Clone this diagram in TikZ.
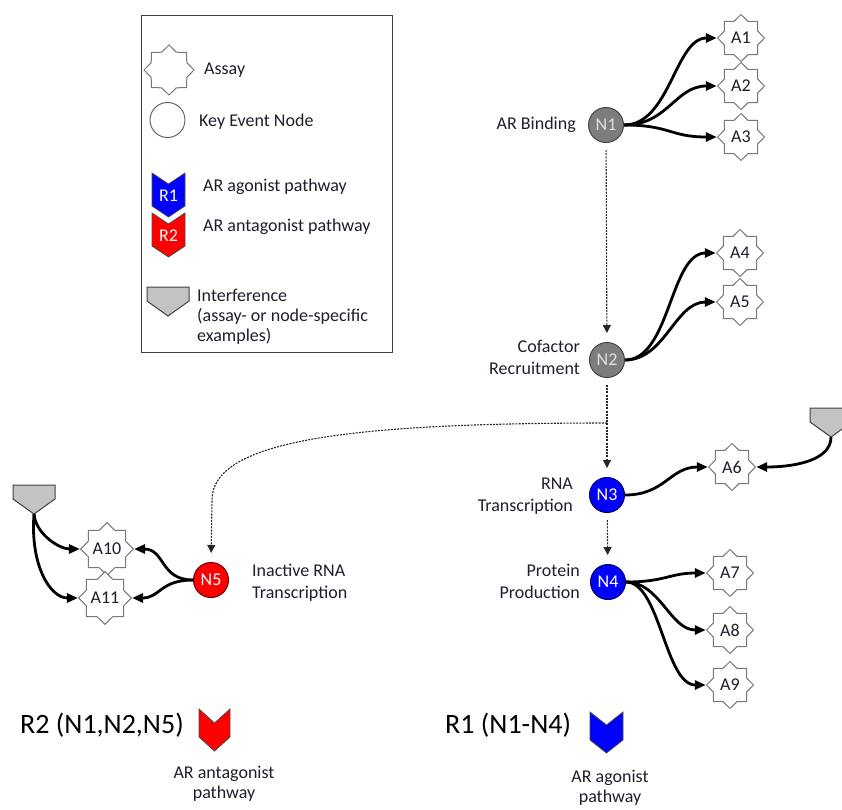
\documentclass[tikz,border=0pt]{standalone}
\usepackage{fontspec}
\setmainfont{Carlito}
\usetikzlibrary{shapes.geometric,arrows.meta}
\definecolor{txt}{RGB}{30,30,45}
\definecolor{kgray}{RGB}{125,125,125}
\definecolor{kgrayd}{RGB}{70,70,70}
\definecolor{intf}{RGB}{195,195,195}
\definecolor{stard}{RGB}{120,120,120}
\newcommand{\mychev}[6]{%
  \filldraw[fill=#6,draw=black!70,line width=0.8pt]
    (#1,#2) -- ({#1+#3/2},{#2+#5}) -- ({#1+#3},#2) -- ({#1+#3},{#2+#4-#5})
    -- ({#1+#3/2},{#2+#4}) -- (#1,{#2+#4-#5}) -- cycle;}
\newcommand{\myinterf}[3]{%
  \filldraw[fill=intf,draw=black!75,line width=1pt]
    (#1,#2) -- ({#1+42},#2) -- ({#1+42},{#2+14}) -- ({#1+21},{#2+29})
    -- (#1,{#2+14}) -- cycle;
  \coordinate (#3) at ({#1+21},{#2+29});}
\tikzset{
  assay/.style={star, star points=8, star point ratio=1.3, minimum size=47pt,
    inner sep=0pt, draw=stard, fill=white, line width=1pt, text=txt,
    font=\fontsize{18}{20}\selectfont},
  ken/.style={circle, minimum size=35pt, inner sep=0pt, line width=1pt,
    font=\fontsize{18}{20}\selectfont},
  lbl/.style={text=txt, font=\fontsize{18}{22}\selectfont, inner sep=0pt},
  leg/.style={text=txt, font=\fontsize{18}{20}\selectfont, inner sep=0pt, anchor=west, align=left},
  conn/.style={line width=2.8pt, -{Triangle[length=11pt,width=9pt]}},
  flow/.style={line width=1.1pt, draw=black!85, dash pattern=on 2pt off 1.2pt,
    -{Triangle[length=8pt,width=8pt]}, shorten <=7pt, shorten >=9pt},
}
\begin{document}
\begin{tikzpicture}[x=1pt,y=-1pt]
\useasboundingbox (0,0) rectangle (842,809);
% ---------- legend ----------
\node[draw=black!75, line width=1pt, minimum width=251pt, minimum height=337pt,
  inner sep=0pt] (legend) at (266.5,183.5) {};
\node[assay, minimum size=50pt] (legA) at (169,70) {};
\node[leg] (legAt) at (204,70) {Assay};
\node[ken, draw=black!60, fill=white] (legN) at (167.5,120) {};
\node[leg] (legNt) at (199,122) {Key Event Node};
\mychev{152}{173}{33}{44}{11}{blue}
\node[text=white, font=\fontsize{18}{20}\selectfont] (legR1) at (168.5,196) {R1};
\node[leg] (legR1t) at (203,187) {AR agonist pathway};
\mychev{152}{213}{33}{44}{11}{red}
\node[text=white, font=\fontsize{18}{20}\selectfont] (legR2) at (168.5,236) {R2};
\node[leg] (legR2t) at (203,227) {AR antagonist pathway};
\myinterf{147}{287}{legI}
\node[leg] (legIt) at (197,317) {Interference\\(assay- or node-specific\\examples)};
% ---------- key event nodes ----------
\node[ken, fill=kgray, draw=kgrayd, text=white!88!black] (N1) at (606,125) {N1};
\node[ken, fill=kgray, draw=kgrayd, text=white!88!black] (N2) at (607,360) {N2};
\node[ken, fill=blue, draw=blue!40!black, text=white] (N3) at (607,495) {N3};
\node[ken, fill=blue, draw=blue!40!black, text=white] (N4) at (608,582) {N4};
\node[ken, fill=red, draw=red!40!black, text=white] (N5) at (211,580) {N5};
\node[lbl, anchor=east] (t1) at (576,125) {AR Binding};
\node[lbl, anchor=east, align=right] (t2) at (580,357) {Cofactor\\Recruitment};
\node[lbl, anchor=east, align=right] (t3) at (573,496) {RNA\\Transcription};
\node[lbl, anchor=east, align=right] (t4) at (580,581) {Protein\\Production};
\node[lbl, anchor=west, align=left] (t5) at (252,583) {Inactive RNA\\Transcription};
% ---------- assays ----------
\node[assay] (A1) at (741,38) {A1};
\node[assay] (A2) at (741,86) {A2};
\node[assay] (A3) at (741,137) {A3};
\node[assay] (A4) at (740,253) {A4};
\node[assay] (A5) at (740,302) {A5};
\node[assay] (A6) at (732,467) {A6};
\node[assay] (A7) at (730,573) {A7};
\node[assay] (A8) at (730,630) {A8};
\node[assay] (A9) at (730,685) {A9};
\node[assay] (A10) at (107,549) {A10};
\node[assay] (A11) at (105,598) {A11};
% ---------- interference ----------
\myinterf{810}{408}{IR}
\myinterf{13}{485}{IL}
% ---------- dashed flow ----------
\draw[flow] (N1) -- (N2);
\draw[flow] (N2) -- (N3);
\draw[flow] (N3) -- (N4);
\coordinate (br) at (607,423);
\draw[flow, shorten <=0pt] (br) .. controls (350,423) and (212,440) .. (212,500) -- (N5.north);
% ---------- solid connectors ----------
\draw[conn] (N1.east) .. controls (670,125) and (675,38) .. (A1.west);
\draw[conn] (N1.east) .. controls (668,125) and (675,86) .. (A2.west);
\draw[conn] (N1.east) .. controls (670,125) and (670,137) .. (A3.west);
\draw[conn] (N2.east) .. controls (670,360) and (670,253) .. (A4.west);
\draw[conn] (N2.east) .. controls (665,360) and (675,302) .. (A5.west);
\draw[conn] (N3.east) .. controls (665,495) and (670,467) .. (A6.west);
\draw[conn] (IR) .. controls (831,462) and (790,467) .. (A6.east);
\draw[conn] (N4.east) .. controls (665,582) and (670,573) .. (A7.west);
\draw[conn] (N4.east) .. controls (660,582) and (670,630) .. (A8.west);
\draw[conn] (N4.east) .. controls (660,582) and (665,685) .. (A9.west);
\draw[conn] (N5.west) .. controls (160,580) and (165,549) .. (A10.east);
\draw[conn] (N5.west) .. controls (160,580) and (160,598) .. (A11.east);
\draw[conn] (IL) .. controls (36,535) and (60,549) .. (A10.west);
\draw[conn] (IL) .. controls (30,565) and (50,598) .. (A11.west);
% ---------- bottom summary ----------
\node[text=black, font=\fontsize{28}{30}\selectfont, anchor=west, inner sep=0pt] (R2t) at (20,725) {R2 (N1,N2,N5)};
\mychev{199}{709}{31}{42}{14}{red}
\node[text=txt, font=\fontsize{18}{20}\selectfont, align=center, inner sep=0pt] (R2c) at (224,784) {AR antagonist\\pathway};
\node[text=black, font=\fontsize{28}{30}\selectfont, anchor=west, inner sep=0pt] (R1t) at (445,725) {R1 (N1-N4)};
\mychev{590}{712}{33}{41}{13}{blue}
\node[text=txt, font=\fontsize{18}{20}\selectfont, align=center, inner sep=0pt] (R1c) at (610,788) {AR agonist\\pathway};
\end{tikzpicture}
\end{document}
